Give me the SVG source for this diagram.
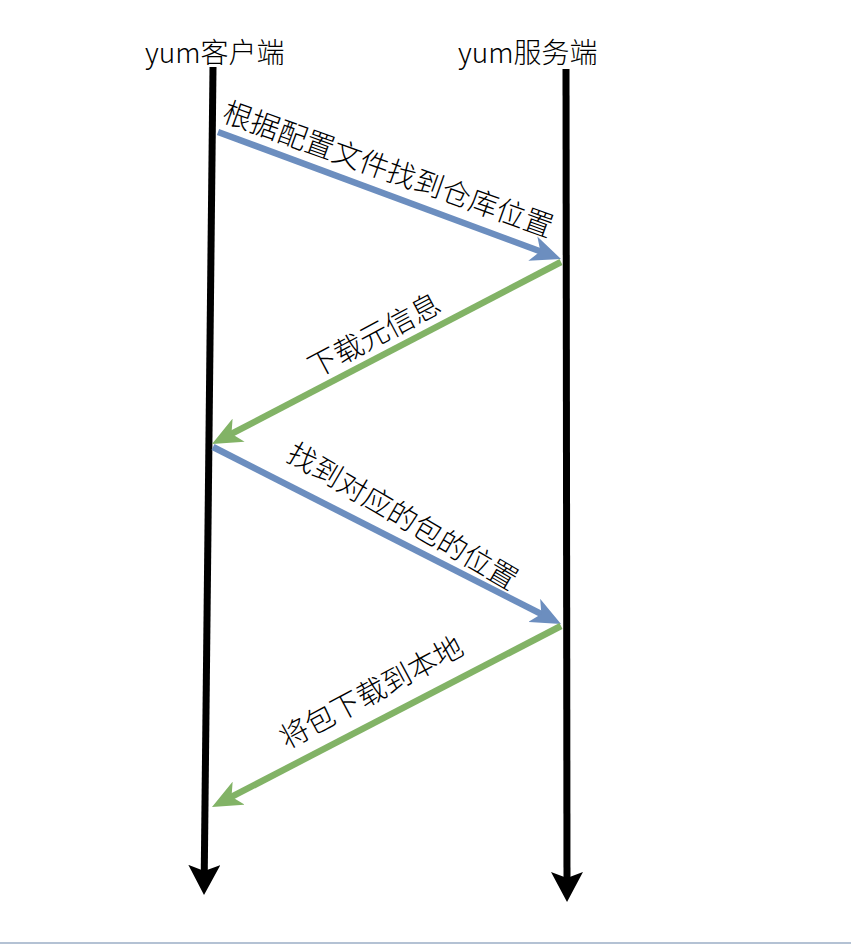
<svg xmlns="http://www.w3.org/2000/svg" width="851" height="944" viewBox="0 0 851 944">
<style>
.lbl{font-family:"Noto Sans CJK SC","Liberation Sans",sans-serif;font-size:28px;font-weight:300;fill:#000}
.rot{font-size:29px}
.mid{text-anchor:middle;dominant-baseline:central}
.life{stroke:#000;stroke-width:7;fill:none}
.blue{stroke:#6c8ebf;stroke-width:6.5;fill:none}
.green{stroke:#82b366;stroke-width:6.5;fill:none}
</style>
<defs>
<marker id="hb" viewBox="0 0 30 32" refX="12" refY="16" markerWidth="30" markerHeight="32" markerUnits="userSpaceOnUse" orient="auto"><path d="M0,0 L30,16 L0,32 L6,16 z" fill="#000"/></marker>
<marker id="hblue" viewBox="0 0 30 26" refX="12" refY="13" markerWidth="30" markerHeight="26" markerUnits="userSpaceOnUse" orient="auto"><path d="M0,0 L30,13 L0,26 L8,13 z" fill="#6c8ebf"/></marker>
<marker id="hgreen" viewBox="0 0 30 26" refX="12" refY="13" markerWidth="30" markerHeight="26" markerUnits="userSpaceOnUse" orient="auto"><path d="M0,0 L30,13 L0,26 L8,13 z" fill="#82b366"/></marker>
</defs>
<rect x="0" y="0" width="851" height="944" fill="#fff"/>
<rect x="0" y="942" width="851" height="2" fill="#b4c2d4"/>
<g id="client">
<text class="lbl" x="145" y="63">yum客户端</text>
</g>
<g id="server">
<text class="lbl" x="458" y="63">yum服务端</text>
</g>
<g id="connectors">
<line class="life" x1="213" y1="67" x2="204.2" y2="877" marker-end="url(#hb)"/>
<line class="life" x1="566" y1="69" x2="567" y2="884" marker-end="url(#hb)"/>
<line class="blue" x1="218" y1="132" x2="544.1" y2="252.75" marker-end="url(#hblue)"/>
<line class="green" x1="561" y1="262" x2="227.96" y2="435.68" marker-end="url(#hgreen)"/>
<line class="blue" x1="213" y1="447" x2="544.95" y2="615.84" marker-end="url(#hblue)"/>
<line class="green" x1="561" y1="626" x2="227.98" y2="798.71" marker-end="url(#hgreen)"/>
</g>
<g id="labels">
<text class="lbl rot mid" transform="translate(389,167) rotate(19.7)">根据配置文件找到仓库位置</text>
<text class="lbl rot mid" transform="translate(373,333) rotate(-28)">下载元信息</text>
<text class="lbl rot mid" transform="translate(404,514) rotate(30.3)">找到对应的包的位置</text>
<text class="lbl rot mid" transform="translate(370,690) rotate(-28.3)">将包下载到本地</text>
</g>
</svg>
